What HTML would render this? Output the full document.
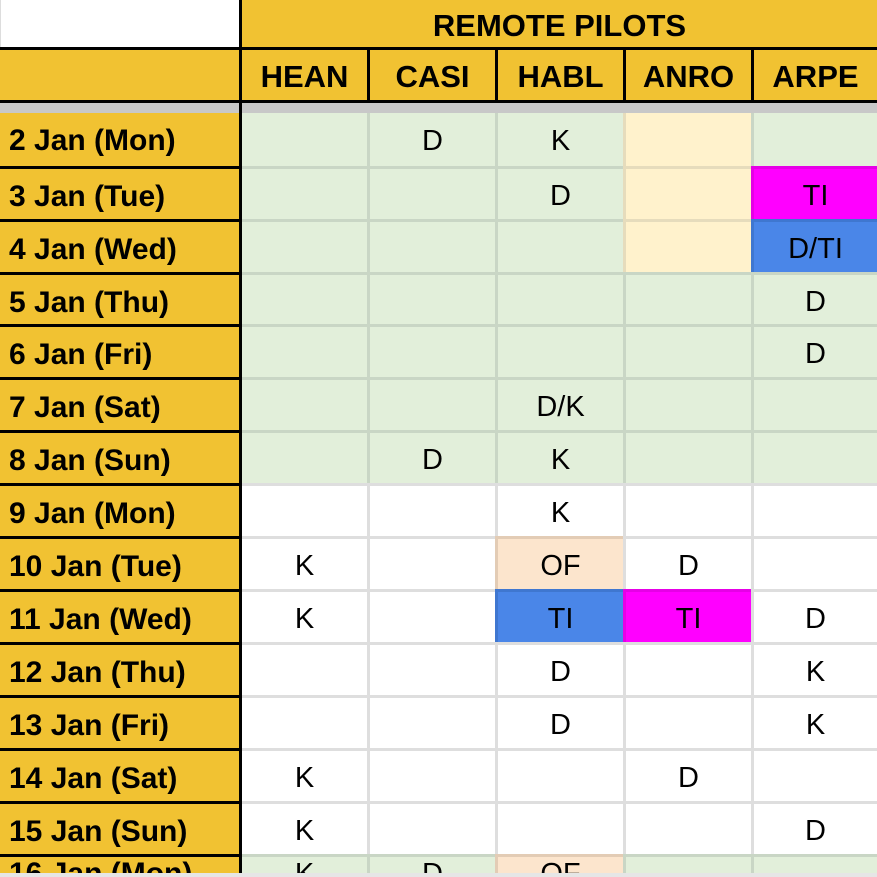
<!DOCTYPE html>
<html style="margin:0;width:877px;height:877px;overflow:hidden"><head><style>
body{margin:0;width:877px;height:877px;overflow:hidden;background:#fff;font-family:"Liberation Sans",Arial,sans-serif;position:relative}
div{position:absolute;box-sizing:border-box}
.c{height:53px;display:flex;align-items:center;justify-content:center;font-size:29px;color:#000;padding-top:4px;overflow:hidden}
.d{left:0;width:239px;height:53px;background:#f1c232;font-weight:bold;font-size:30px;display:flex;align-items:center;padding-left:9px;padding-top:6px;border-top:3px solid #000;overflow:hidden;white-space:nowrap}
.h{top:50px;height:50px;background:#f1c232;font-weight:bold;font-size:31px;display:flex;align-items:center;justify-content:center;padding-top:4px}
.g{background:#e2efda;border-color:#c9d6c5!important}
.w{background:#fff;border-color:#dedede!important}
.y{background:#fff2cc;border-color:#e6dcbc!important}
.p{background:#fce5cd;border-color:#e3ccb5!important}
.m{background:#ff00ff;border-color:#e600e6!important}
.b{background:#4a86e8;border-color:#3f77d0!important}
.k1{left:242px;width:125px}
.k2{left:367px;width:128px;border-left:3px solid}
.k3{left:495px;width:128px;border-left:3px solid}
.k4{left:623px;width:128px;border-left:3px solid}
.k5{left:751px;width:126px;border-left:3px solid}
.t{border-top:3px solid}
.last{height:19px!important;align-items:flex-start;padding-top:2px!important;line-height:30px}
</style></head><body>
<div style="left:0;top:0;width:239px;height:47px;background:#fff;border-left:1px solid #ddd"></div>
<div style="left:242px;top:0;width:635px;height:47px;background:#f1c232;font-weight:bold;font-size:31px;display:flex;align-items:center;justify-content:center;padding-top:4px">REMOTE PILOTS</div>
<div style="left:0;top:47px;width:877px;height:3px;background:#000"></div>
<div style="left:0;top:50px;width:239px;height:50px;background:#f1c232"></div>
<div class="h" style="left:242px;width:125px">HEAN</div>
<div class="h" style="left:370px;width:125px">CASI</div>
<div class="h" style="left:498px;width:125px">HABL</div>
<div class="h" style="left:626px;width:125px">ANRO</div>
<div class="h" style="left:754px;width:123px">ARPE</div>
<div style="left:367px;top:50px;width:3px;height:50px;background:#000"></div>
<div style="left:495px;top:50px;width:3px;height:50px;background:#000"></div>
<div style="left:623px;top:50px;width:3px;height:50px;background:#000"></div>
<div style="left:751px;top:50px;width:3px;height:50px;background:#000"></div>
<div style="left:0;top:100px;width:877px;height:3px;background:#000"></div>
<div style="left:0;top:103px;width:877px;height:10px;background:#c8c8c8"></div>

<div class="d" style="top:113px;border-top:none;padding-top:3px">2 Jan (Mon)</div>
<div class="c g k1" style="top:113px"></div><div class="c g k2" style="top:113px">D</div><div class="c g k3" style="top:113px">K</div><div class="c y k4" style="top:113px"></div><div class="c g k5" style="top:113px"></div>
<div class="d" style="top:166px">3 Jan (Tue)</div>
<div class="c g k1 t" style="top:166px"></div><div class="c g k2 t" style="top:166px"></div><div class="c g k3 t" style="top:166px">D</div><div class="c y k4 t" style="top:166px"></div><div class="c m k5 t" style="top:166px">TI</div>
<div class="d" style="top:219px">4 Jan (Wed)</div>
<div class="c g k1 t" style="top:219px"></div><div class="c g k2 t" style="top:219px"></div><div class="c g k3 t" style="top:219px"></div><div class="c y k4 t" style="top:219px"></div><div class="c b k5 t" style="top:219px">D/TI</div>
<div class="d" style="top:272px">5 Jan (Thu)</div>
<div class="c g k1 t" style="top:272px"></div><div class="c g k2 t" style="top:272px"></div><div class="c g k3 t" style="top:272px"></div><div class="c g k4 t" style="top:272px"></div><div class="c g k5 t" style="top:272px">D</div>
<div class="d" style="top:324px">6 Jan (Fri)</div>
<div class="c g k1 t" style="top:324px"></div><div class="c g k2 t" style="top:324px"></div><div class="c g k3 t" style="top:324px"></div><div class="c g k4 t" style="top:324px"></div><div class="c g k5 t" style="top:324px">D</div>
<div class="d" style="top:377px">7 Jan (Sat)</div>
<div class="c g k1 t" style="top:377px"></div><div class="c g k2 t" style="top:377px"></div><div class="c g k3 t" style="top:377px">D/K</div><div class="c g k4 t" style="top:377px"></div><div class="c g k5 t" style="top:377px"></div>
<div class="d" style="top:430px">8 Jan (Sun)</div>
<div class="c g k1 t" style="top:430px"></div><div class="c g k2 t" style="top:430px">D</div><div class="c g k3 t" style="top:430px">K</div><div class="c g k4 t" style="top:430px"></div><div class="c g k5 t" style="top:430px"></div>
<div class="d" style="top:483px">9 Jan (Mon)</div>
<div class="c w k1 t" style="top:483px"></div><div class="c w k2 t" style="top:483px"></div><div class="c w k3 t" style="top:483px">K</div><div class="c w k4 t" style="top:483px"></div><div class="c w k5 t" style="top:483px"></div>
<div class="d" style="top:536px">10 Jan (Tue)</div>
<div class="c w k1 t" style="top:536px">K</div><div class="c w k2 t" style="top:536px"></div><div class="c p k3 t" style="top:536px">OF</div><div class="c w k4 t" style="top:536px">D</div><div class="c w k5 t" style="top:536px"></div>
<div class="d" style="top:589px">11 Jan (Wed)</div>
<div class="c w k1 t" style="top:589px">K</div><div class="c w k2 t" style="top:589px"></div><div class="c b k3 t" style="top:589px">TI</div><div class="c m k4 t" style="top:589px">TI</div><div class="c w k5 t" style="top:589px">D</div>
<div class="d" style="top:642px">12 Jan (Thu)</div>
<div class="c w k1 t" style="top:642px"></div><div class="c w k2 t" style="top:642px"></div><div class="c w k3 t" style="top:642px">D</div><div class="c w k4 t" style="top:642px"></div><div class="c w k5 t" style="top:642px">K</div>
<div class="d" style="top:695px">13 Jan (Fri)</div>
<div class="c w k1 t" style="top:695px"></div><div class="c w k2 t" style="top:695px"></div><div class="c w k3 t" style="top:695px">D</div><div class="c w k4 t" style="top:695px"></div><div class="c w k5 t" style="top:695px">K</div>
<div class="d" style="top:748px">14 Jan (Sat)</div>
<div class="c w k1 t" style="top:748px">K</div><div class="c w k2 t" style="top:748px"></div><div class="c w k3 t" style="top:748px"></div><div class="c w k4 t" style="top:748px">D</div><div class="c w k5 t" style="top:748px"></div>
<div class="d" style="top:801px">15 Jan (Sun)</div>
<div class="c w k1 t" style="top:801px">K</div><div class="c w k2 t" style="top:801px"></div><div class="c w k3 t" style="top:801px"></div><div class="c w k4 t" style="top:801px"></div><div class="c w k5 t" style="top:801px">D</div>
<div class="d last" style="top:854px">16 Jan (Mon)</div>
<div class="c g k1 t last" style="top:854px">K</div><div class="c g k2 t last" style="top:854px">D</div><div class="c p k3 t last" style="top:854px">OF</div><div class="c g k4 t last" style="top:854px"></div><div class="c g k5 t last" style="top:854px"></div>

<div style="left:239px;top:0;width:3px;height:873px;background:#000"></div>
<div style="left:0;top:873px;width:877px;height:4px;background:#e6e6e6"></div>
</body></html>
